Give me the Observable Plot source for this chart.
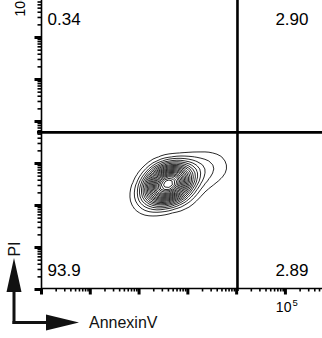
<!DOCTYPE html>
<html><head><meta charset="utf-8">
<script src="https://cdn.jsdelivr.net/npm/d3@7"></script>
<script src="https://cdn.jsdelivr.net/npm/@observablehq/plot@0.6"></script>
<style>
body{margin:0;background:#fff;}
#chart{position:relative;width:322px;height:338px;overflow:hidden;}
</style></head><body><div id="chart"></div>
<script>
// Quadrant percentages (UL, UR, LL, LR)
const quadrantLabels = ["0.34", "2.90", "93.9", "2.89"];
// Quadrant gate positions (AnnexinV, PI)
const gateX = [10400];
const gateY = [55];
// Estimated event cluster (AnnexinV, PI, relative weight)
const eventX = [171, 250, 364, 531, 775, 1130, 302, 584, 275, 440, 107, 1811, 3193, 5117, 2295, 893, 171, 4200];
const eventY = [2.04, 2.54, 3.16, 3.94, 4.91, 6.11, 1.93, 2.54, 4.40, 5.47, 1.31, 8.49, 10.57, 8.96, 3.53, 1.47, 1.0, 6.0];
const eventW = [3, 5, 8, 6, 4, 2, 2.5, 2.5, 2, 2, 0.6, 1, 0.7, 0.55, 0.6, 0.6, 0.5, 0.35];
// Axis decades and tick labels
const xDecades = [1, 10, 100, 1000, 10000, 100000];
const yDecades = [0.01, 0.1, 1, 10, 100, 1000, 10000];
const xTickLabel = [100000];
const yTickLabel = [100000];
const xTitle = "AnnexinV";
const yTitle = "PI";

const xDomain = [1, Math.pow(10, 5.76)];
const yDomain = [Math.pow(10, -1.976), Math.pow(10, 4.881)];
const events = eventX.map((x, i) => ({x, y: eventY[i], w: eventW[i]}));
const minors = (dec, dom) => dec.flatMap(d => [2,3,4,5,6,7,8,9].map(m => d * m)).filter(v => v > dom[0] && v < dom[1]);
const xMinor = minors(xDecades, xDomain);
const yMinor = minors(yDecades, yDomain);
const font = "'Liberation Sans', Arial, Helvetica, sans-serif";

const plot = Plot.plot({
  width: 322, height: 338,
  marginTop: 0, marginRight: 0, marginBottom: 50, marginLeft: 41,
  x: {type: "log", domain: xDomain, axis: null},
  y: {type: "log", domain: yDomain, axis: null},
  style: {fontFamily: font, background: "white", color: "black"},
  marks: [
    Plot.density(events, {x: "x", y: "y", weight: "w", bandwidth: 9, thresholds: 22, stroke: "#111", strokeWidth: 0.9}),
    // axis lines
    Plot.ruleY([yDomain[0]], {stroke: "black", strokeWidth: 1.6}),
    Plot.ruleX([xDomain[0]], {stroke: "black", strokeWidth: 1.6}),
    // x ticks
    Plot.ruleX(xMinor, {y1: yDomain[0], y2: yDomain[0], insetBottom: -3.5, stroke: "black", strokeWidth: 1.6}),
    Plot.ruleX(xDecades, {y1: yDomain[0], y2: yDomain[0], insetBottom: -6.5, stroke: "black", strokeWidth: 3}),
    // y ticks
    Plot.ruleY(yMinor, {x1: xDomain[0], x2: xDomain[0], insetLeft: -3.5, stroke: "black", strokeWidth: 1.6}),
    Plot.ruleY(yDecades, {x1: xDomain[0], x2: xDomain[0], insetLeft: -6.5, stroke: "black", strokeWidth: 3}),
    // gates
    Plot.ruleX(gateX, {stroke: "black", strokeWidth: 2.6, insetBottom: -3}),
    Plot.ruleY(gateY, {stroke: "black", strokeWidth: 2.6, insetLeft: -4}),
    // quadrant labels
    Plot.text([quadrantLabels[0]], {text: d => d, frameAnchor: "top-left", textAnchor: "start", dx: 6, dy: 12, fontSize: 17}),
    Plot.text([quadrantLabels[1]], {text: d => d, frameAnchor: "top-right", textAnchor: "end", dx: -14, dy: 12, fontSize: 17}),
    Plot.text([quadrantLabels[2]], {text: d => d, frameAnchor: "bottom-left", textAnchor: "start", dx: 6, dy: -13, fontSize: 17}),
    Plot.text([quadrantLabels[3]], {text: d => d, frameAnchor: "bottom-right", textAnchor: "end", dx: -14, dy: -13, fontSize: 17}),
    // tick labels
    Plot.text(xTickLabel, {x: d => d, frameAnchor: "bottom", text: () => "10", textAnchor: "end", dx: 6, dy: 23, fontSize: 14}),
    Plot.text(xTickLabel, {x: d => d, frameAnchor: "bottom", text: () => "5", textAnchor: "start", dx: 7, dy: 17, fontSize: 9.5}),
    Plot.text(yTickLabel, {y: d => d, frameAnchor: "left", text: () => "10\u2075", textAnchor: "start", rotate: -90, dx: -21, dy: 21, fontSize: 14})
  ]
});

const svg = d3.select(plot);
svg.attr("overflow", "hidden");
// Axis title arrows
const g = svg.append("g").attr("fill", "#111").attr("stroke", "none");
g.append("rect").attr("x", 12.5).attr("y", 288).attr("width", 3).attr("height", 36);
g.append("path").attr("d", "M6.5,292 L21.5,292 L14,258 Z");
g.append("rect").attr("x", 12.5).attr("y", 321).attr("width", 36).attr("height", 3);
g.append("path").attr("d", "M46,314.5 L46,330.5 L79,322.5 Z");
svg.append("text").attr("x", 89).attr("y", 328).attr("text-anchor", "start").attr("font-size", 16).attr("font-family", font).attr("fill", "#111").text(xTitle);
svg.append("text").attr("transform", "translate(20,249) rotate(-90)").attr("text-anchor", "middle").attr("font-size", 16).attr("font-family", font).attr("fill", "#111").text(yTitle);

document.getElementById("chart").appendChild(plot);
</script>
</body></html>
